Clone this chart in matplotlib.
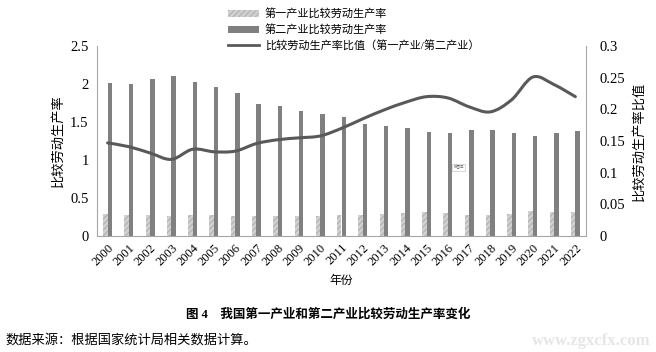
import numpy as np
import matplotlib.pyplot as plt
from matplotlib.lines import Line2D
from matplotlib.patches import Patch, PathPatch
from matplotlib.path import Path

plt.rcParams['font.family'] = ['Liberation Serif', 'Noto Sans CJK SC']
plt.rcParams['hatch.linewidth'] = 0.6

# data
years = [str(y) for y in range(2000, 2023)]
primary = [0.29, 0.28, 0.27, 0.26, 0.28, 0.27, 0.26, 0.26, 0.26, 0.26, 0.26, 0.27,
           0.28, 0.29, 0.30, 0.31, 0.30, 0.28, 0.28, 0.29, 0.33, 0.32, 0.31]
secondary = [2.01, 2.00, 2.06, 2.10, 2.03, 1.96, 1.88, 1.74, 1.71, 1.65, 1.61, 1.56,
             1.48, 1.45, 1.42, 1.37, 1.35, 1.39, 1.40, 1.36, 1.31, 1.35, 1.38]
ratio = [0.147, 0.141, 0.131, 0.121, 0.137, 0.133, 0.134, 0.146, 0.152, 0.155, 0.158, 0.170,
         0.185, 0.199, 0.211, 0.220, 0.218, 0.204, 0.196, 0.215, 0.251, 0.239, 0.220]

fig = plt.figure(figsize=(6.56, 3.52), dpi=100)
ax = fig.add_axes([97/656, 1 - 236/352, (586 - 97)/656, (236 - 46)/352])
x = np.arange(len(years))
w = 0.21

ax.bar(x - w/2, primary, w, color='#d0d0d0', edgecolor='#a8a8a8', hatch='//////', linewidth=0)
ax.bar(x + w/2, secondary, w, color='#808080', linewidth=0)
ax.set_xlim(-0.5, len(years) - 0.5)
ax.set_ylim(0, 2.5)
ax.set_yticks([0, 0.5, 1, 1.5, 2, 2.5])
ax.set_yticklabels(['0', '0.5', '1', '1.5', '2', '2.5'], fontsize=10.5)
ax.set_xticks(x)
ax.set_xticklabels(years, rotation=45, fontsize=9, ha='right', rotation_mode='anchor')
ax.tick_params(length=0, pad=6)
ax.tick_params(axis='x', pad=4)
ax.set_ylabel('比较劳动生产率', fontsize=9.5, labelpad=4)
ax.set_xlabel('年份', fontsize=8.5, labelpad=5)

# smoothed line like the spreadsheet's "smooth line" option
ax2 = ax.twinx()
px = np.array(x, dtype=float)
py = np.array(ratio)
verts = [(px[0], py[0])]
codes = [Path.MOVETO]
n = len(px)
for i in range(n - 1):
    p0 = max(i - 1, 0)
    p3 = min(i + 2, n - 1)
    c1 = (px[i] + (px[i + 1] - px[p0]) / 6, py[i] + (py[i + 1] - py[p0]) / 6)
    c2 = (px[i + 1] - (px[p3] - px[i]) / 6, py[i + 1] - (py[p3] - py[i]) / 6)
    verts += [c1, c2, (px[i + 1], py[i + 1])]
    codes += [Path.CURVE4] * 3
ax2.add_patch(PathPatch(Path(verts, codes), facecolor='none', edgecolor='#595959', linewidth=2.2,
                        capstyle='round'))
ax2.set_ylim(0, 0.3)
ax2.set_yticks([0, 0.05, 0.1, 0.15, 0.2, 0.25, 0.3])
ax2.set_yticklabels(['0', '0.05', '0.1', '0.15', '0.2', '0.25', '0.3'], fontsize=10.5)
ax2.tick_params(length=0, pad=10)
ax2.set_ylabel('比较劳动生产率比值', fontsize=9.5, rotation=90, labelpad=5)

for a in (ax, ax2):
    a.spines['top'].set_visible(False)
    for s in ('left', 'right', 'bottom'):
        a.spines[s].set_color('#a6a6a6')
        a.spines[s].set_linewidth(0.8)
ax.spines['right'].set_visible(False)
ax2.spines['left'].set_visible(False)
ax2.spines['bottom'].set_visible(False)

ax.text(0.74, 0.36, '绘图区', transform=ax.transAxes, fontsize=2.5, color='#666666',
        ha='center', va='center', bbox=dict(facecolor='white', edgecolor='#bbbbbb', linewidth=0.4, pad=1))

handles = [Patch(facecolor='#d0d0d0', edgecolor='#a8a8a8', hatch='//////', linewidth=0),
           Patch(facecolor='#808080', linewidth=0),
           Line2D([], [], color='#595959', linewidth=2)]
labels = ['第一产业比较劳动生产率', '第二产业比较劳动生产率', '比较劳动生产率比值（第一产业/第二产业）']
fig.legend(handles, labels, loc='upper left', bbox_to_anchor=(218/656, 1.005), frameon=False,
           fontsize=8, handlelength=2.8, handleheight=0.6, labelspacing=0.45, handletextpad=0.5)

fig.text(0.5, 1 - 314/352, '图 4　我国第一产业和第二产业比较劳动生产率变化', ha='center', va='center',
         fontsize=9, fontweight='bold')
fig.text(5/656, 1 - 340/352, '数据来源：根据国家统计局相关数据计算。', ha='left', va='center', fontsize=9.5)
fig.text(650/656, 1 - 341/352, 'www.zgxcfx.com', ha='right', va='center', fontsize=12,
         color='#e6e6e6', fontweight='bold')

fig.savefig('out.png', dpi=100)
